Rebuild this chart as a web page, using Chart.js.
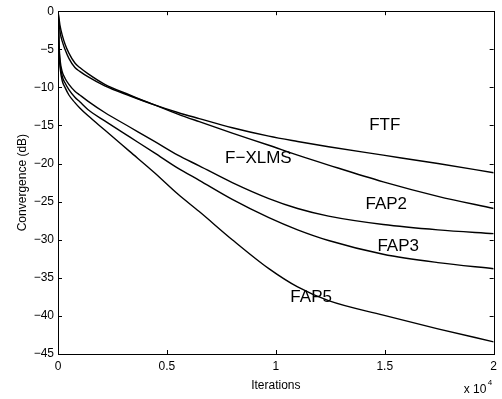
<!DOCTYPE html>
<html>
<head>
<meta charset="utf-8">
<script src="https://cdn.jsdelivr.net/npm/chart.js@4/dist/chart.umd.min.js"></script>
<style>
html,body{margin:0;padding:0;background:#fff;}
#wrap{width:502px;height:399px;position:relative;}
</style>
</head>
<body>
<div id="wrap"><canvas id="c" width="502" height="399"></canvas></div>
<script>
// Iterations (x axis)
const iterations = [0, 50, 100, 200, 320, 500, 776, 1000, 1370, 2146, 3288, 4430, 5500, 6484, 8000, 9680, 11000, 12420, 14930, 17440, 20000];
// Convergence (dB) for each algorithm
const ftf   = [0, -1.5, -2.8, -4.0, -5.0, -6.2, -7.4, -7.9, -8.6, -9.8, -11.1, -12.3, -13.3, -14.1, -15.3, -16.4, -17.1, -17.8, -18.9, -20.0, -21.2];
const fxlms = [0, -1.0, -2.0, -3.2, -4.3, -5.5, -6.8, -7.4, -8.2, -9.6, -11.0, -12.3, -13.5, -14.5, -16.0, -17.6, -18.9, -20.2, -22.4, -24.3, -25.9];
const fap2  = [0, -4.5, -6.5, -8.0, -8.8, -9.6, -10.5, -11.0, -11.8, -13.3, -15.2, -17.1, -18.9, -20.3, -22.5, -24.6, -25.9, -26.9, -28.0, -28.7, -29.2];
const fap3  = [0, -5.0, -7.0, -8.6, -9.4, -10.3, -11.3, -11.9, -12.9, -14.4, -16.5, -18.6, -20.6, -22.2, -24.7, -27.1, -28.7, -30.1, -31.9, -33.0, -33.8];
const fap5  = [0, -5.5, -7.5, -9.2, -10.0, -11.0, -12.0, -12.7, -13.7, -15.6, -18.4, -21.2, -24.0, -26.3, -30.0, -33.8, -36.2, -38.0, -39.9, -41.7, -43.4];
const seriesNames = ['FTF', 'F−XLMS', 'FAP2', 'FAP3', 'FAP5'];
// Curve label anchors (data coords)
const labelX = [15000, 9200, 15068, 15616, 11621];
const labelY = [-15.0, -19.3, -25.4, -30.9, -37.6];
// Ticks
const xTicks = [0, 5000, 10000, 15000, 20000];
const yTicks = [0, -5, -10, -15, -20, -25, -30, -35, -40, -45];

const FONT = '"Liberation Sans", Arial, Helvetica, sans-serif';
const allSeries = [ftf, fxlms, fap2, fap3, fap5];
const datasets = allSeries.map((s, i) => ({
  label: seriesNames[i],
  data: iterations.map((x, k) => ({x: x, y: s[k]})),
  borderColor: '#000',
  borderWidth: 1.4,
  pointRadius: 0,
  fill: false,
  cubicInterpolationMode: 'monotone'
}));

const decor = {
  id: 'decor',
  afterDraw(chart) {
    const ctx = chart.ctx;
    const a = chart.chartArea;
    const xs = chart.scales.x, ys = chart.scales.y;
    ctx.save();
    // box
    ctx.strokeStyle = '#000';
    ctx.lineWidth = 1;
    ctx.strokeRect(Math.round(a.left) + 0.5, Math.round(a.top) + 0.5, Math.round(a.right - a.left), Math.round(a.bottom - a.top));
    // inside ticks
    const tl = 4;
    ctx.beginPath();
    xTicks.forEach(v => {
      const p = Math.round(xs.getPixelForValue(v)) + 0.5;
      ctx.moveTo(p, a.bottom); ctx.lineTo(p, a.bottom - tl);
      ctx.moveTo(p, a.top); ctx.lineTo(p, a.top + tl);
    });
    yTicks.forEach(v => {
      const p = Math.round(ys.getPixelForValue(v)) + 0.5;
      ctx.moveTo(a.left, p); ctx.lineTo(a.left + tl, p);
      ctx.moveTo(a.right, p); ctx.lineTo(a.right - tl, p);
    });
    ctx.stroke();
    // curve labels
    ctx.fillStyle = '#000';
    ctx.font = '17px ' + FONT;
    ctx.textAlign = 'center';
    ctx.textBaseline = 'middle';
    seriesNames.forEach((n, i) => {
      ctx.fillText(n, xs.getPixelForValue(labelX[i]), ys.getPixelForValue(labelY[i]));
    });
    // x 10^4 multiplier
    ctx.font = '12px ' + FONT;
    ctx.textAlign = 'left';
    ctx.textBaseline = 'alphabetic';
    ctx.fillText('x 10', a.right - 30, a.bottom + 39);
    ctx.font = '8px ' + FONT;
    ctx.fillText('4', a.right - 6, a.bottom + 31);
    ctx.restore();
  }
};

new Chart(document.getElementById('c'), {
  type: 'line',
  data: { datasets: datasets },
  options: {
    responsive: false,
    animation: false,
    devicePixelRatio: 1,
    layout: { padding: { top: 10, right: 6, left: 0, bottom: 0 } },
    plugins: { legend: { display: false }, tooltip: { enabled: false } },
    scales: {
      x: {
        type: 'linear',
        min: 0, max: 20000,
        afterFit(s) { s.height = 45; },
        afterBuildTicks(s) { s.ticks = xTicks.map(v => ({value: v})); },
        grid: { display: false, drawTicks: false },
        border: { display: false },
        ticks: {
          color: '#000', padding: 5,
          font: { family: FONT, size: 12 },
          maxRotation: 0, autoSkip: false,
          callback: v => String(v / 10000)
        },
        title: { display: true, text: 'Iterations', color: '#000', font: { family: FONT, size: 12 }, padding: { top: 0, bottom: 6 } }
      },
      y: {
        type: 'linear',
        min: -45, max: 0,
        afterFit(s) { s.width = 58; },
        afterBuildTicks(s) { s.ticks = yTicks.map(v => ({value: v})); },
        grid: { display: false, drawTicks: false },
        border: { display: false },
        ticks: {
          color: '#000', padding: 4,
          font: { family: FONT, size: 12 },
          autoSkip: false,
          callback: v => (v < 0 ? '−' + Math.abs(v) : String(v))
        },
        title: { display: true, text: 'Convergence (dB)', color: '#000', font: { family: FONT, size: 12 }, padding: { top: 15, bottom: 0 } }
      }
    }
  },
  plugins: [decor]
});
</script>
</body>
</html>
